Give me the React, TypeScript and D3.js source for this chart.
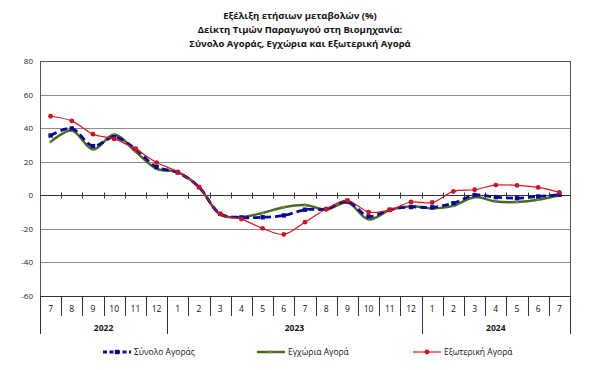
import React, { useEffect, useRef } from 'react'
import * as d3 from 'd3'

const months = ['7', '8', '9', '10', '11', '12', '1', '2', '3', '4', '5', '6', '7', '8', '9', '10', '11', '12', '1', '2', '3', '4', '5', '6', '7']
const years = [
  { label: '2022', start: 0, end: 6 },
  { label: '2023', start: 6, end: 18 },
  { label: '2024', start: 18, end: 25 },
]
const yTicks = [-60, -40, -20, 0, 20, 40, 60, 80]

const totalMarket = [35.6, 39.8, 29.3, 34.6, 27.7, 16.8, 13.6, 4.9, -11, -13.2, -13.1, -12, -8.6, -8.2, -3.7, -12.6, -8.6, -7, -7.2, -4.7, 0.1, -1.1, -1.7, -0.7, 0.3]
const domesticMarket = [31.8, 38.6, 27.3, 36.2, 26.1, 15.8, 13.8, 4.9, -11.5, -13, -10.5, -7.1, -5.8, -8.5, -4.3, -14.4, -8.8, -6.6, -7.8, -6.3, -1.1, -3.7, -4, -2.7, 0]
const externalMarket = [47.1, 44.3, 36.4, 33.6, 27.5, 19.5, 14, 4.9, -11.2, -14.2, -19.7, -23.3, -16, -8.2, -3.1, -10, -8.8, -4, -4.3, 2.3, 3.3, 6.1, 5.9, 4.7, 1.7]

const titleLines = [
  'Εξέλιξη ετήσιων μεταβολών (%)',
  'Δείκτη Τιμών Παραγωγού στη Βιομηχανία:',
  'Σύνολο Αγοράς, Εγχώρια και Εξωτερική Αγορά',
]

const FONT = '"Open Sans", "Noto Sans", sans-serif'

export default function App() {
  const ref = useRef<SVGSVGElement | null>(null)

  useEffect(() => {
    if (!ref.current) return
    const svg = d3.select(ref.current)
    svg.selectAll('*').remove()

    const left = 40
    const right = 570
    const top = 61
    const bottom = 296

    const x = d3.scaleBand<number>().domain(d3.range(months.length)).range([left, right])
    const y = d3.scaleLinear().domain([-60, 80]).range([bottom, top])
    const cx = (i: number) => (x(i) ?? 0) + x.bandwidth() / 2
    const edge = (i: number) => left + i * x.step()

    // title
    svg
      .append('g')
      .selectAll('text')
      .data(titleLines)
      .join('text')
      .attr('x', 300)
      .attr('y', (_, i) => 19 + i * 14)
      .attr('text-anchor', 'middle')
      .style('font-family', FONT)
      .style('font-weight', 700)
      .style('font-size', '9.5px')
      .attr('fill', '#111')
      .text((d) => d)

    // grid
    const grid = svg.append('g')
    grid
      .selectAll('line')
      .data(yTicks.filter((t) => t !== 0 && t !== 80 && t !== -60))
      .join('line')
      .attr('x1', left)
      .attr('x2', right)
      .attr('y1', (d) => Math.round(y(d)) + 0.5)
      .attr('y2', (d) => Math.round(y(d)) + 0.5)
      .attr('stroke', '#8c8c8c')
      .attr('stroke-width', 1)

    // plot border
    svg
      .append('rect')
      .attr('x', left + 0.5)
      .attr('y', Math.round(top) + 0.5)
      .attr('width', right - left)
      .attr('height', Math.round(bottom) - Math.round(top))
      .attr('fill', 'none')
      .attr('stroke', '#555')
      .attr('stroke-width', 1)

    // zero line with ticks
    const y0 = Math.round(y(0)) + 0.5
    svg.append('line').attr('x1', left).attr('x2', right).attr('y1', y0).attr('y2', y0).attr('stroke', '#333')
    svg
      .append('g')
      .selectAll('line')
      .data(d3.range(1, months.length))
      .join('line')
      .attr('x1', (d) => Math.round(edge(d)) + 0.5)
      .attr('x2', (d) => Math.round(edge(d)) + 0.5)
      .attr('y1', y0 - 3)
      .attr('y2', y0 + 3)
      .attr('stroke', '#333')

    // y labels
    svg
      .append('g')
      .selectAll('text')
      .data(yTicks)
      .join('text')
      .attr('x', 33)
      .attr('y', (d) => y(d) + 3)
      .attr('text-anchor', 'end')
      .style('font-family', FONT)
      .style('font-size', '8px')
      .attr('fill', '#222')
      .text((d) => d)

    // bottom axis: month row and year row
    const ax = svg.append('g')
    const yb = Math.round(bottom) + 0.5
    ax.append('line').attr('x1', left).attr('x2', right).attr('y1', yb).attr('y2', yb).attr('stroke', '#333')
    ax
      .selectAll('line.m')
      .data(d3.range(0, months.length + 1))
      .join('line')
      .attr('class', 'm')
      .attr('x1', (d) => Math.round(edge(d)) + 0.5)
      .attr('x2', (d) => Math.round(edge(d)) + 0.5)
      .attr('y1', yb)
      .attr('y2', (d) => (years.some((g) => g.start === d || g.end === d) ? 334 : 316))
      .attr('stroke', '#333')
    ax
      .selectAll('text.m')
      .data(months)
      .join('text')
      .attr('class', 'm')
      .attr('x', (_, i) => cx(i))
      .attr('y', 312)
      .attr('text-anchor', 'middle')
      .style('font-family', FONT)
      .style('font-size', '8.5px')
      .attr('fill', '#111')
      .text((d) => d)
    ax
      .selectAll('text.yr')
      .data(years)
      .join('text')
      .attr('class', 'yr')
      .attr('x', (d) => (edge(d.start) + edge(d.end)) / 2)
      .attr('y', 331)
      .attr('text-anchor', 'middle')
      .style('font-family', FONT)
      .style('font-weight', 700)
      .style('font-size', '8.5px')
      .attr('fill', '#111')
      .text((d) => d.label)

    const line = d3
      .line<number>()
      .x((_, i) => cx(i))
      .y((d) => y(d))
      .curve(d3.curveCatmullRom.alpha(0.5))

    const series = [
      { name: 'Εγχώρια Αγορά', values: domesticMarket, color: '#4b6a25', width: 2.5, dash: null as string | null, marker: 'dot' },
      { name: 'Σύνολο Αγοράς', values: totalMarket, color: '#0a0a96', width: 2.8, dash: '7,4', marker: 'square' },
      { name: 'Εξωτερική Αγορά', values: externalMarket, color: '#e0141e', width: 1.2, dash: null, marker: 'circle' },
    ]

    const drawMarker = (g: d3.Selection<SVGGElement, unknown, null, undefined>, kind: string, color: string, px: number, py: number) => {
      if (kind === 'square') {
        g.append('rect').attr('x', px - 2.2).attr('y', py - 2.2).attr('width', 4.4).attr('height', 4.4).attr('fill', color)
      } else if (kind === 'circle') {
        g.append('circle').attr('cx', px).attr('cy', py).attr('r', 2.4).attr('fill', '#d40f1a')
      } else {
        g.append('circle').attr('cx', px).attr('cy', py).attr('r', 1.4).attr('fill', '#6f8f3a')
      }
    }

    const plot = svg.append('g')
    for (const s of series) {
      plot
        .append('path')
        .datum(s.values)
        .attr('d', line)
        .attr('fill', 'none')
        .attr('stroke', s.color)
        .attr('stroke-width', s.width)
        .attr('stroke-dasharray', s.dash)
      const mg = plot.append('g')
      s.values.forEach((v, i) => drawMarker(mg as any, s.marker, s.color, cx(i), y(v)))
    }

    // legend
    const legendItems = [
      { s: series[1], x0: 103 },
      { s: series[0], x0: 257 },
      { s: series[2], x0: 413 },
    ]
    const ly = 352
    const lg = svg.append('g')
    for (const it of legendItems) {
      lg.append('line')
        .attr('x1', it.x0)
        .attr('x2', it.x0 + 28)
        .attr('y1', ly)
        .attr('y2', ly)
        .attr('stroke', it.s.color)
        .attr('stroke-width', it.s.width)
        .attr('stroke-dasharray', it.s.dash ? '4,2.5' : null)
      drawMarker(lg as any, it.s.marker, it.s.color, it.x0 + 14, ly)
      lg.append('text')
        .attr('x', it.x0 + 31)
        .attr('y', ly + 3)
        .style('font-family', FONT)
        .style('font-size', '8.5px')
        .attr('fill', '#111')
        .text(it.s.name)
    }
  }, [])

  return <svg ref={ref} width={600} height={370} style={{ display: 'block', position: 'absolute', left: 0, top: 0, background: '#fff' }} />
}
